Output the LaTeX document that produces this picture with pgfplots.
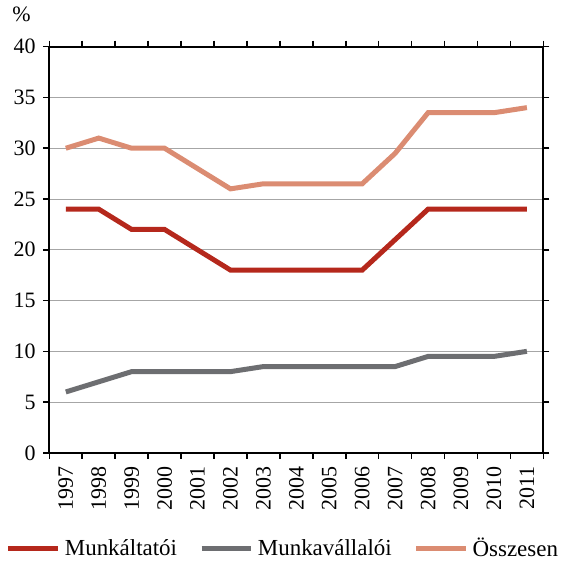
\documentclass[border=0pt]{standalone}
\usepackage{pgfplots}
\pgfplotsset{compat=1.18}
\usepackage{fontspec}
\setmainfont{Liberation Serif}
\definecolor{cred}{HTML}{B5281C}
\definecolor{cgray}{HTML}{6D6E71}
\definecolor{csalmon}{HTML}{DB8C72}
\begin{document}
\fontsize{11}{13}\selectfont
\begin{tikzpicture}
  \begin{axis}[
    width=247.5pt, height=203.5pt, scale only axis,
    xmin=-0.5, xmax=14.5,
    ymin=0, ymax=40,
    xtick={0,...,14},
    xticklabels={1997,1998,1999,2000,2001,2002,2003,2004,2005,2006,2007,2008,2009,2010,2011},
    xticklabel style={rotate=90, anchor=east, font=\fontsize{11}{13}\selectfont},
    major x tick style={draw=none},
    minor xtick={-0.5,0.5,...,14.5},
    ytick={0,5,...,40},
    yticklabel style={font=\fontsize{11}{13}\selectfont},
    /pgf/number format/assume math mode=true,
    tick align=outside,
    tick style={black, line width=0.8pt},
    major tick length=3pt, minor tick length=3pt,
    axis line style={black, line width=1pt},
    ymajorgrids, grid style={gray!70, line width=0.5pt},
    legend style={draw=none, at={(0.475,-0.236)}, anchor=center,
      legend columns=3, font=\fontsize{11.5}{13}\selectfont,
      /tikz/every even column/.append style={column sep=9pt}},
    legend image code/.code={\draw[#1] (0pt,0pt) -- (25pt,0pt);},
    clip=false,
    ]
    \addplot[cred, line width=2.5pt] coordinates {
      (0,24) (1,24) (2,22) (3,22) (4,20) (5,18) (6,18) (7,18)
      (8,18) (9,18) (10,21) (11,24) (12,24) (13,24) (14,24)
    };
    \addplot[cgray, line width=2.5pt] coordinates {
      (0,6) (1,7) (2,8) (3,8) (4,8) (5,8) (6,8.5) (7,8.5)
      (8,8.5) (9,8.5) (10,8.5) (11,9.5) (12,9.5) (13,9.5) (14,10)
    };
    \addplot[csalmon, line width=2.5pt] coordinates {
      (0,30) (1,31) (2,30) (3,30) (4,28) (5,26) (6,26.5) (7,26.5)
      (8,26.5) (9,26.5) (10,29.5) (11,33.5) (12,33.5) (13,33.5) (14,34)
    };
    \legend{Munkáltatói, Munkavállalói, Összesen}
    \node at (rel axis cs:0,1) [xshift=-14pt, yshift=16pt] {\%};
  \end{axis}
\end{tikzpicture}
\end{document}
